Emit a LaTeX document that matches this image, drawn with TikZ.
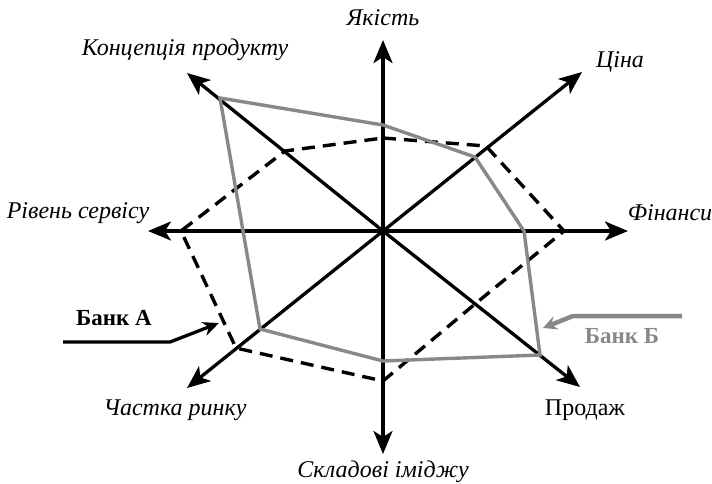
\documentclass[tikz,border=0pt]{standalone}
\usepackage{fontspec}
\setmainfont{Liberation Serif}
\usetikzlibrary{arrows.meta}
\begin{document}
\begin{tikzpicture}[x=1pt,y=-1pt,
  axis/.style={line width=3.3pt,-{Stealth[length=23pt,width=19pt,inset=6pt]}},
  bankb/.style={line width=3.4pt,draw={rgb,255:red,136;green,136;blue,136},line join=miter},
  banka/.style={line width=3.4pt,dash pattern=on 13pt off 8pt,line join=miter},
  lbl/.style={font=\fontsize{24}{28}\selectfont\itshape,inner sep=0pt},
  leg/.style={font=\fontsize{23}{28}\selectfont\bfseries,inner sep=0pt}]
\useasboundingbox (0,0) rectangle (712,483);
\definecolor{bgray}{RGB}{136,136,136}
% centre and axis tips
\coordinate (O) at (383,231);
\coordinate (tN) at (383,40);
\coordinate (tS) at (383,454);
\coordinate (tE) at (628,231);
\coordinate (tW) at (148,231);
\coordinate (tNE) at (582,72);
\coordinate (tNW) at (187,73);
\coordinate (tSW) at (187,388);
\coordinate (tSE) at (580,387);
% axes
\draw[axis] (O) -- (tN);
\draw[axis] (O) -- (tS);
\draw[axis] (O) -- (tE);
\draw[axis] (O) -- (tW);
\draw[axis] (O) -- (tNE);
\draw[axis] (O) -- (tNW);
\draw[axis] (O) -- (tSW);
\draw[axis] (O) -- (tSE);
% Bank A (dashed)
\coordinate (aN) at (383,138);
\coordinate (aNE) at (486,146);
\coordinate (aE) at (564,231);
\coordinate (aSE) at (475,304);
\coordinate (aS) at (383,381);
\coordinate (aSW) at (236,348);
\coordinate (aW) at (181,231);
\coordinate (aNW) at (285,151);
\draw[banka] (aN) -- (aNE) -- (aE) -- (aSE) -- (aS) -- (aSW) -- (aW) -- (aNW) -- cycle;
% Bank B (gray)
\coordinate (bN) at (383,125);
\coordinate (bNE) at (475,157);
\coordinate (bE) at (524,231);
\coordinate (bSE) at (540,355);
\coordinate (bS) at (383,361);
\coordinate (bSW) at (260,329);
\coordinate (bNW) at (220,98);
\draw[bankb] (bN) -- (bNE) -- (bE) -- (bSE) -- (bS) -- (bSW) -- (bNW) -- cycle;
% axis labels
\node[lbl] (lN) at (383,18) {Якість};
\node[lbl] (lNW) at (185,50) {Концепція продукту};
\node[lbl] (lNE) at (620,62) {Ціна};
\node[lbl] (lW) at (78,213) {Рівень сервісу};
\node[lbl] (lE) at (670,213) {Фінанси};
\node[lbl] (lSW) at (175,410) {Частка ринку};
\node[lbl,font=\fontsize{24}{28}\selectfont] (lSE) at (585,410) {Продаж};
\node[lbl] (lS) at (383,472) {Складові іміджу};
% legend
\node[leg] (legA) at (114,318) {Банк А};
\coordinate (aStart) at (63,342);
\coordinate (aBend) at (170,342);
\coordinate (aTip) at (219,323);
\draw[line width=3.3pt,-{Stealth[length=16pt,width=14pt,inset=5pt]}] (aStart) -- (aBend) -- (aTip);
\node[leg,text=bgray] (legB) at (622,336) {Банк Б};
\coordinate (bStart) at (682,316);
\coordinate (bBend) at (573,316);
\coordinate (bTip) at (543,328);
\draw[line width=4.5pt,draw=bgray,-{Stealth[length=14pt,width=14pt,inset=5pt]}] (bStart) -- (bBend) -- (bTip);
\end{tikzpicture}
\end{document}
